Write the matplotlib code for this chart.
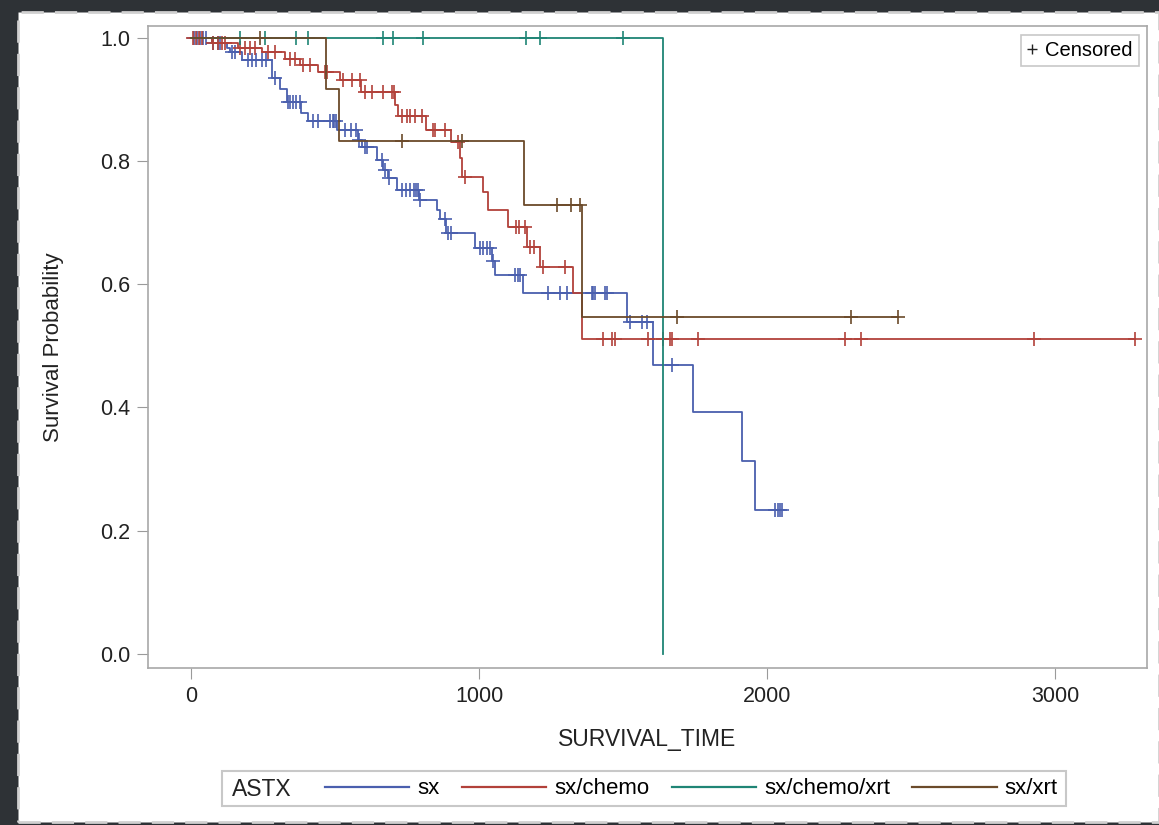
import numpy as np
import matplotlib
matplotlib.use("Agg")
import matplotlib.pyplot as plt
from matplotlib.lines import Line2D
from matplotlib.patches import Rectangle

plt.rcParams['font.family'] = ['Liberation Sans', 'DejaVu Sans']

groups = ['sx', 'sx/chemo', 'sx/chemo/xrt', 'sx/xrt']
colors = ['#4a5fae', '#b2413a', '#1f8575', '#6b4a2a']

# event times and survival after each event
sx_t = [73, 125, 135, 177, 281, 309, 333, 380, 406, 507, 580, 594, 646, 667,
        684, 715, 790, 854, 865, 884, 986, 1045, 1056, 1153, 1514, 1604,
        1743, 1913, 1958]
sx_s = [0.992, 0.984, 0.976, 0.964, 0.935, 0.916, 0.895, 0.878, 0.864, 0.851,
        0.834, 0.823, 0.802, 0.786, 0.773, 0.753, 0.737, 0.720, 0.705, 0.683,
        0.659, 0.637, 0.615, 0.586, 0.539, 0.469, 0.393, 0.313, 0.234]
sx_c = [10, 21, 31, 42, 52, 76, 94, 101, 142, 153, 198, 212, 226, 247, 260,
        292, 337, 344, 354, 365, 378, 424, 441, 483, 493, 497, 503, 535, 556,
        573, 583, 604, 611, 663, 674, 688, 733, 747, 760, 774, 781, 788, 795,
        882, 892, 903, 1003, 1014, 1028, 1038, 1049, 1125, 1135, 1142, 1240,
        1281, 1306, 1392, 1396, 1403, 1438, 1444, 1524, 1566, 1583, 1670,
        2028, 2038, 2046, 2052]

chemo_t = [73, 163, 247, 326, 378, 441, 517, 590, 708, 719, 816, 903, 934,
           941, 1014, 1031, 1101, 1167, 1212, 1326, 1358]
chemo_s = [0.992, 0.984, 0.976, 0.966, 0.955, 0.945, 0.932, 0.912, 0.891,
           0.873, 0.851, 0.830, 0.805, 0.774, 0.750, 0.720, 0.693, 0.661,
           0.628, 0.586, 0.511]
chemo_c = [7, 17, 28, 38, 76, 94, 108, 118, 170, 188, 205, 222, 267, 292,
           344, 361, 389, 413, 465, 472, 528, 559, 587, 604, 628, 667, 698,
           705, 733, 750, 760, 778, 802, 840, 847, 882, 927, 951, 1128, 1140,
           1160, 1175, 1190, 1222, 1299, 1431, 1462, 1470, 1587, 1639, 1664,
           1670, 1760, 2271, 2326, 2927, 3278]

cx_t = [1639]
cx_s = [0.0]
cx_c = [170, 257, 365, 406, 667, 701, 806, 1163, 1212, 1500]

xrt_t = [469, 514, 1156, 1358]
xrt_s = [0.917, 0.833, 0.729, 0.547]
xrt_c = [240, 733, 941, 1270, 1319, 1351, 1688, 2292, 2455]

series = [(sx_t, sx_s, sx_c), (chemo_t, chemo_s, chemo_c),
          (cx_t, cx_s, cx_c), (xrt_t, xrt_s, xrt_c)]

fig = plt.figure(figsize=(11.59, 8.25), dpi=100, facecolor='#2e3236')
W, H = 1159, 825
fig.add_artist(Rectangle((18 / W, 3 / H), 1 - 18 / W, 1 - 15 / H,
                         transform=fig.transFigure, facecolor='white',
                         edgecolor='#d0d0d0', lw=2, ls=(0, (8, 4)),
                         zorder=-10))

ax = fig.add_axes([148 / W, 1 - 668 / H, 999 / W, 642 / H])

for (t, s, c), col, name in zip(series, colors, groups):
    t = np.array(t, float)
    s = np.array(s, float)
    c = np.array(c, float)
    end = max(t.max(), c.max())
    tt = np.concatenate([[0], t])
    ss = np.concatenate([[1.0], s])
    if s[-1] > 0:
        tt = np.append(tt, end)
        ss = np.append(ss, s[-1])
    ax.step(tt, ss, where='post', color=col, lw=1.3, label=name)
    idx = np.searchsorted(t, c, side='right')
    sc = np.concatenate([[1.0], s])[idx]
    ax.plot(c, sc, ls='none', marker='+', ms=10, mew=1.2, color=col)

ax.set_xlim(-150, 3319)
ax.set_ylim(-0.023, 1.019)
ax.set_xticks([0, 1000, 2000, 3000])
ax.set_yticks([0.0, 0.2, 0.4, 0.6, 0.8, 1.0])
ax.yaxis.set_major_formatter(matplotlib.ticker.FormatStrFormatter('%.1f'))
ax.tick_params(labelsize=15.5, length=8, color='#9a9a9a', labelcolor='#222222',
               pad=5)
for sp in ax.spines.values():
    sp.set_color('#a8a8a8')
    sp.set_linewidth(1.2)
ax.set_xlabel('SURVIVAL_TIME', fontsize=16.5, color='#222222', labelpad=15)
ax.set_ylabel('Survival Probability', fontsize=16, color='#222222',
              labelpad=26)

cens = Line2D([], [], ls='none', marker='+', color='#222222', ms=7, mew=1)
leg1 = ax.legend([cens], ['Censored'], loc='upper right', fontsize=14.5,
                 handlelength=0.5, handletextpad=0.4, borderpad=0.3,
                 borderaxespad=0, fancybox=False, edgecolor='#c8c8c8',
                 framealpha=1, bbox_to_anchor=(991 / 999, (668 - 35) / 642))
leg1.get_frame().set_linewidth(1.2)

# bottom legend
fig.add_artist(Rectangle((222 / W, 1 - 806 / H), 844 / W, 35 / H,
                         transform=fig.transFigure, facecolor='white',
                         edgecolor='#c8c8c8', lw=1.5, zorder=-5))
fig.text(232 / W, 1 - 789 / H, 'ASTX', fontsize=16.5, color='#222222',
         va='center', ha='left')
handles = [Line2D([], [], color=c, lw=1.6) for c in colors]
fig.legend(handles, groups, loc='center left', ncol=4, frameon=False,
           fontsize=16, handlelength=3.8, handletextpad=0.36, borderpad=0,
           borderaxespad=0, columnspacing=1.0,
           bbox_to_anchor=(325 / W, 1 - 789 / H))

fig.savefig('out.png', dpi=100, facecolor=fig.get_facecolor())
